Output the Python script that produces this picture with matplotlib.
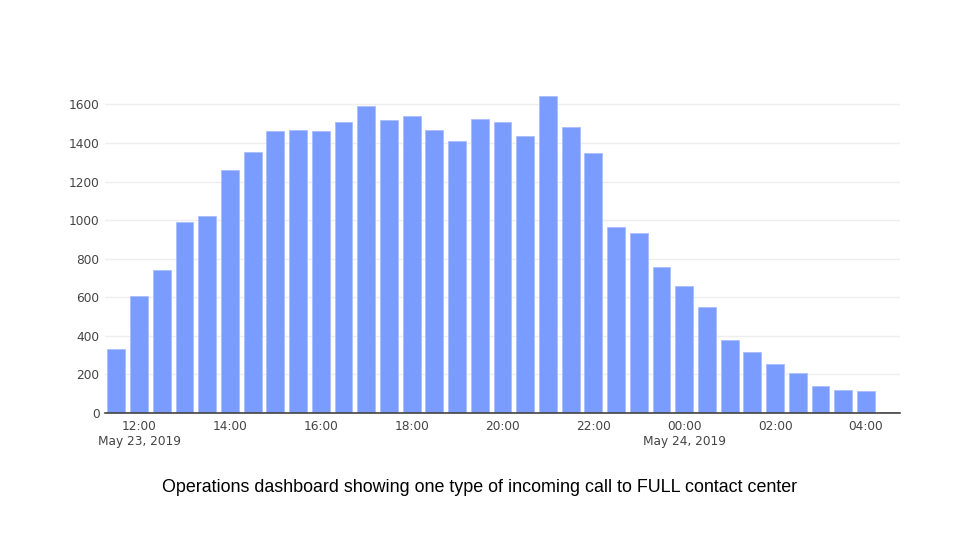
import matplotlib
matplotlib.use('Agg')
import matplotlib.pyplot as plt
import matplotlib.dates as mdates
import pandas as pd

# half-hour buckets, May 23 11:30 -> May 24 04:30
times = pd.date_range('2019-05-23 11:30', '2019-05-24 04:30', freq='30min')
calls = [333, 606, 741, 988, 1023, 1260, 1353, 1462, 1467, 1460, 1507, 1593,
         1517, 1538, 1465, 1410, 1524, 1507, 1439, 1645, 1484, 1348, 962, 931,
         757, 658, 551, 378, 318, 256, 206, 140, 117, 114, 5]

tick_times = pd.date_range('2019-05-23 12:00', '2019-05-24 04:00', freq='2h')
tick_labels = ['12:00\nMay 23, 2019', '14:00', '16:00', '18:00', '20:00', '22:00',
               '00:00\nMay 24, 2019', '02:00', '04:00']
caption = 'Operations dashboard showing one type of incoming call to FULL contact center'

fig = plt.figure(figsize=(9.6, 5.4), dpi=100)
ax = fig.add_axes([105 / 960, 1 - 413 / 540, 795 / 960, 334 / 540])

width = 0.79 * (30 / 1440)
ax.bar(mdates.date2num(times), calls, width=width, color='#7A9CFF',
       edgecolor='#A9BEFF', linewidth=0.6, zorder=3)

ax.set_xlim(mdates.date2num(pd.Timestamp('2019-05-23 11:15')),
            mdates.date2num(pd.Timestamp('2019-05-24 04:45')))
ax.set_ylim(0, 1732)
ax.set_yticks(range(0, 1601, 200))
ax.set_xticks(mdates.date2num(tick_times))
ax.set_xticklabels(tick_labels, ha='center', va='top')

ax.tick_params(axis='both', length=0, labelsize=8.7, labelcolor='#444444')
ax.tick_params(axis='y', pad=4)
ax.tick_params(axis='x', pad=5)
ax.grid(axis='y', color='#eeeeee', linewidth=1, zorder=0)
ax.grid(axis='x', visible=False)

for s in ['top', 'right', 'left']:
    ax.spines[s].set_visible(False)
ax.spines['bottom'].set_color('#444444')
ax.spines['bottom'].set_linewidth(1.2)
ax.spines['bottom'].set_zorder(4)

fig.text(0.5, 1 - 488 / 540, caption, ha='center', va='center',
         fontsize=12.9, family='Liberation Sans', color='black')

plt.savefig('out.png', dpi=100)
